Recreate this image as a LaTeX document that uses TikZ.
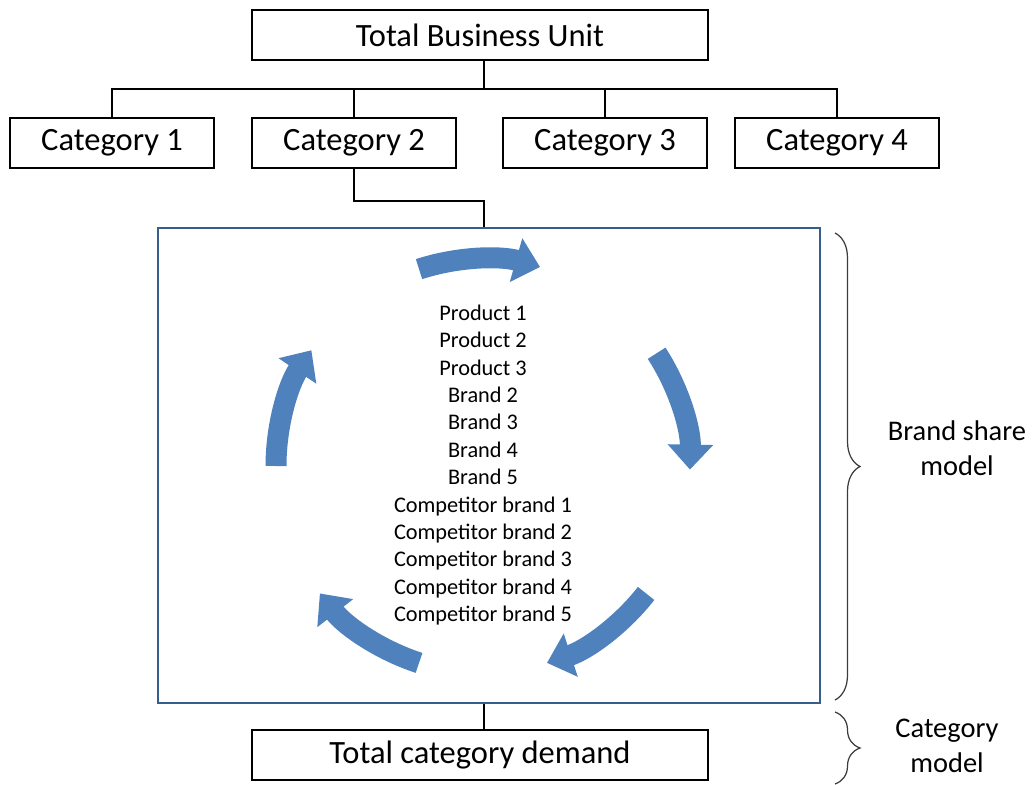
\documentclass[tikz,border=0pt]{standalone}
\usepackage{fontspec}
\setmainfont{Carlito}
\usepackage{tikz}
\usetikzlibrary{calc}
\usetikzlibrary{arrows.meta}
\usetikzlibrary{decorations.pathreplacing}
\definecolor{office-blue}{RGB}{79, 129, 189}
\definecolor{office-frame}{RGB}{56, 93, 138}
\definecolor{brace-gray}{RGB}{60, 60, 60}

\begin{document}
\begin{tikzpicture}[x = 0.02cm, y = -0.02cm,
    unit/.style = {draw, line width=1pt, inner sep=0pt, minimum height=1cm,
      font=\fontsize{18.5}{22}\selectfont},
    cat/.style = {unit, minimum width=4.08cm},
    wide/.style = {unit, minimum width=9.12cm},
    cyc/.style = {office-blue, line width=0.42cm,
      -{Triangle[length=0.5cm, width=0.88cm]}},
    side/.style = {align=center, font=\fontsize{16.2}{19.8}\selectfont}]
          \useasboundingbox (0, 0) rectangle (1034, 784);

          % hierarchy
          \node[wide] (tbu) at (480, 35) {Total Business Unit};
          \node[cat] (cat1) at (112, 143) {Category 1};
          \node[cat] (cat2) at (354, 143) {Category 2};
          \node[cat] (cat3) at (605, 143) {Category 3};
          \node[cat] (cat4) at (837, 143) {Category 4};
          \coordinate (hub) at (484, 89);

          \draw[line width=1pt] (tbu.south -| hub) -- (hub);
          \draw[line width=1pt] (cat1.north) |- (hub) -| (cat4.north);
          \draw[line width=1pt] (cat2.north) -- (cat2.north |- hub);
          \draw[line width=1pt] (cat3.north) -- (cat3.north |- hub);

          % brand share model
          \node[draw=office-frame, line width=1pt, minimum width=13.24cm,
            minimum height=9.5cm] (model) at (489, 465.5) {};
          \node[align=center, font=\fontsize{12.7}{15.6}\selectfont] (brands) at (483, 465)
            {Product 1\\Product 2\\Product 3\\Brand 2\\Brand 3\\Brand 4\\Brand 5\\
             Competitor brand 1\\Competitor brand 2\\Competitor brand 3\\
             Competitor brand 4\\Competitor brand 5};

          \begin{scope}[shift = {(483, 466)}, yscale = -1]
            \foreach \a in {108, 33, -38, -108, 180}
              \draw[cyc] (\a:207) arc (\a:\a-34:207);
          \end{scope}

          \draw[line width=1pt] (cat2.south) -- ++(0, 32) -| (hub |- model.north);

          % category model
          \node[wide] (demand) at (480, 755) {Total category demand};
          \draw[line width=1pt] (hub |- model.south) -- (hub |- demand.north);

          % braces
          \draw[brace-gray, line width=0.7pt, decorate, decoration={brace, amplitude=0.5cm}]
            (835, 233) -- (835, 700);
          \draw[brace-gray, line width=0.7pt, decorate, decoration={brace, amplitude=0.5cm}]
            (835, 712) -- (835, 784);
          \node[side] (share) at (957, 448) {Brand share\\model};
          \node[side] (catmodel) at (947, 746) {Category\\model};

        \end{tikzpicture}
\end{document}
